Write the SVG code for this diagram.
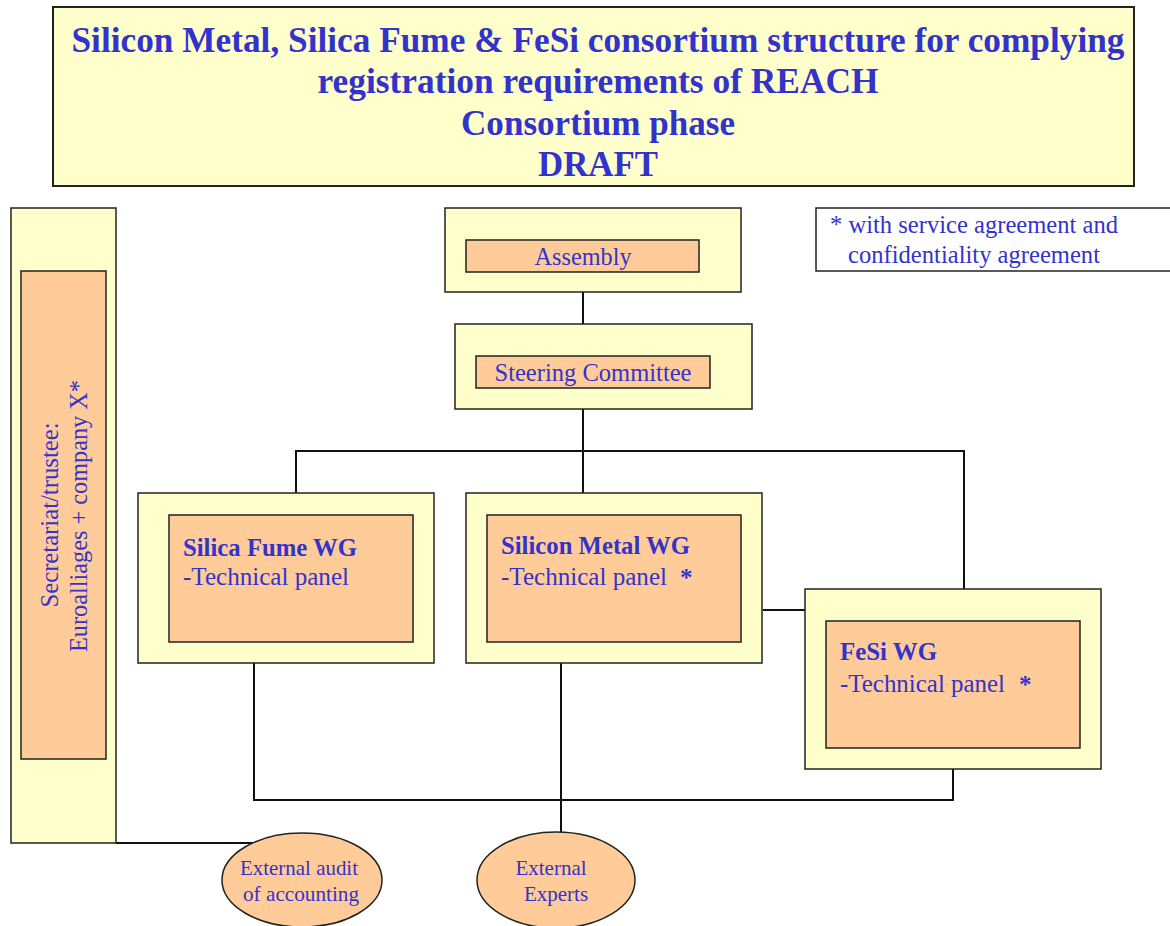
<svg xmlns="http://www.w3.org/2000/svg" width="1170" height="926" viewBox="0 0 1170 926">
<style>
.outer{fill:#FFFFCC;stroke:#222;stroke-width:1.5}
.inner{fill:#FFCC99;stroke:#222;stroke-width:1.5}
.t{font-family:"Liberation Serif","Times New Roman",serif;fill:#3333CC;font-size:25px}
.b{font-weight:bold}
.e{font-size:21px}
.title{font-family:"Liberation Serif","Times New Roman",serif;fill:#3333CC;font-size:36px;font-weight:bold;text-anchor:middle}
.c{text-anchor:middle}
.ln{fill:none;stroke:#111;stroke-width:2}
</style>
<rect width="1170" height="926" fill="#fff"/>
<g id="title">
<rect x="53" y="7" width="1081" height="179" class="outer" style="stroke-width:2"/>
<text class="title" x="598" y="52" textLength="1053" lengthAdjust="spacingAndGlyphs">Silicon Metal, Silica Fume &amp; FeSi consortium structure for complying</text>
<text class="title" x="598" y="93" textLength="561" lengthAdjust="spacingAndGlyphs">registration requirements of REACH</text>
<text class="title" x="598" y="135" textLength="274" lengthAdjust="spacingAndGlyphs">Consortium phase</text>
<text class="title" x="598" y="176" textLength="120" lengthAdjust="spacingAndGlyphs">DRAFT</text>
</g>
<g id="connectors">
<path class="ln" d="M583 292V324"/>
<path class="ln" d="M583 409V493"/>
<path class="ln" d="M296 493V451H964V589"/>
<path class="ln" d="M763 610H805"/>
<path class="ln" d="M254 663V800H953V769"/>
<path class="ln" d="M561 663V832"/>
<path class="ln" d="M116 843H256"/>
</g>
<g id="secretariat">
<rect x="11" y="208" width="105" height="635" class="outer"/>
<rect x="21" y="271" width="85" height="488" class="inner"/>
<text class="t c" transform="translate(58,515) rotate(-90)" textLength="185" lengthAdjust="spacingAndGlyphs">Secretariat/trustee:</text>
<text class="t c" transform="translate(87,516) rotate(-90)" textLength="272" lengthAdjust="spacingAndGlyphs">Euroalliages + company X*</text>
</g>
<g id="assembly">
<rect x="445" y="208" width="296" height="84" class="outer"/>
<rect x="466" y="240" width="233" height="32" class="inner"/>
<text class="t c" x="583" y="265" textLength="97" lengthAdjust="spacingAndGlyphs">Assembly</text>
</g>
<g id="steering">
<rect x="455" y="324" width="297" height="85" class="outer"/>
<rect x="476" y="356" width="234" height="32" class="inner"/>
<text class="t c" x="593" y="381" textLength="197" lengthAdjust="spacingAndGlyphs">Steering Committee</text>
</g>
<g id="note">
<rect x="816" y="208" width="360" height="63" fill="#fff" stroke="#222" stroke-width="1.5"/>
<text class="t" x="830" y="233" textLength="288" lengthAdjust="spacingAndGlyphs">* with service agreement and</text>
<text class="t" x="848" y="263" textLength="252" lengthAdjust="spacingAndGlyphs">confidentiality agreement</text>
</g>
<g id="silica-fume">
<rect x="138" y="493" width="296" height="170" class="outer"/>
<rect x="169" y="515" width="244" height="127" class="inner"/>
<text class="t b" x="183" y="556" textLength="174" lengthAdjust="spacingAndGlyphs">Silica Fume WG</text>
<text class="t" x="183" y="585" textLength="166" lengthAdjust="spacingAndGlyphs">-Technical panel</text>
</g>
<g id="silicon-metal">
<rect x="466" y="493" width="296" height="170" class="outer"/>
<rect x="487" y="515" width="254" height="127" class="inner"/>
<text class="t b" x="501" y="554" textLength="189" lengthAdjust="spacingAndGlyphs">Silicon Metal WG</text>
<text class="t" x="501" y="585" textLength="166" lengthAdjust="spacingAndGlyphs">-Technical panel</text>
<text class="t b" x="680" y="586">*</text>
</g>
<g id="fesi">
<rect x="805" y="589" width="296" height="180" class="outer"/>
<rect x="826" y="621" width="254" height="127" class="inner"/>
<text class="t b" x="840" y="660" textLength="97" lengthAdjust="spacingAndGlyphs">FeSi WG</text>
<text class="t" x="840" y="692" textLength="165" lengthAdjust="spacingAndGlyphs">-Technical panel</text>
<text class="t b" x="1019" y="693">*</text>
</g>
<g id="audit">
<ellipse cx="302" cy="880" rx="80" ry="47" class="inner"/>
<text class="t e c" x="299" y="875" textLength="118" lengthAdjust="spacingAndGlyphs">External audit</text>
<text class="t e c" x="301" y="901" textLength="116" lengthAdjust="spacingAndGlyphs">of accounting</text>
</g>
<g id="experts">
<ellipse cx="556" cy="880" rx="79" ry="48" class="inner"/>
<text class="t e c" x="551" y="875">External</text>
<text class="t e c" x="556" y="901">Experts</text>
</g>
</svg>
